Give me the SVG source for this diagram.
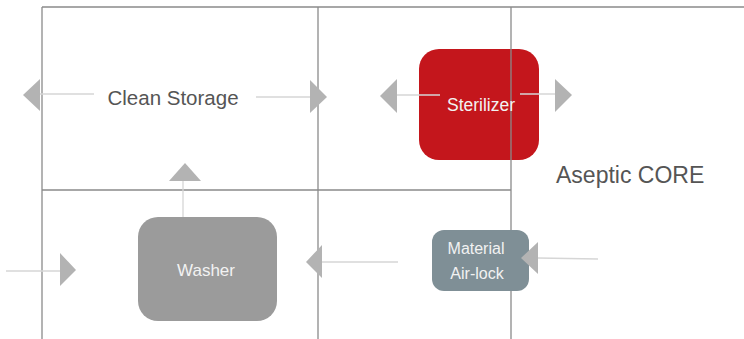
<svg xmlns="http://www.w3.org/2000/svg" width="744" height="339" viewBox="0 0 744 339">
<style>
.grid{stroke:#8a8a8a;stroke-width:1.3;fill:none}
.ln{stroke:#d6d6d6;stroke-width:1.3;fill:none}
.ah{fill:#b3b3b3}
.lbl{font-family:"Liberation Sans",Arial,sans-serif;fill:#555555}
.in{font-family:"Liberation Sans",Arial,sans-serif;fill:#f2f2f2;text-anchor:middle}
</style>
<rect width="744" height="339" fill="#ffffff"/>
<g id="grid">
<line class="grid" x1="42" y1="7" x2="744" y2="7"/>
<line class="grid" x1="42" y1="7" x2="42" y2="339"/>
<line class="grid" x1="318" y1="7" x2="318" y2="339"/>
<line class="grid" x1="42" y1="190" x2="511" y2="190"/>
</g>
<g id="clean-storage">
<text class="lbl" x="173" y="105" font-size="20.5" text-anchor="middle">Clean Storage</text>
</g>
<g id="sterilizer">
<rect x="419" y="49" width="120" height="111" rx="20" fill="#c4161c"/>
</g>
<g id="washer">
<rect x="138" y="217" width="139" height="104" rx="20" fill="#9b9b9b"/>
<text class="in" x="206" y="276" font-size="17">Washer</text>
</g>
<g id="core-line">
<line class="grid" x1="511" y1="7" x2="511" y2="339"/>
</g>
<g id="sterilizer-label">
<text class="in" x="481" y="111" font-size="17.5">Sterilizer</text>
</g>
<g id="airlock">
<rect x="432" y="230" width="97" height="61" rx="12" fill="#7f8f96"/>
<text class="in" x="476" y="254" font-size="16">Material</text>
<text class="in" x="477" y="279" font-size="16">Air-lock</text>
</g>
<g id="aseptic-core">
<text class="lbl" x="556" y="183" font-size="23">Aseptic CORE</text>
</g>
<g id="connectors">
<line class="ln" x1="40" y1="94" x2="94" y2="94"/>
<polygon class="ah" points="40,79 40,111 23,95"/>
<line class="ln" x1="256" y1="97" x2="310" y2="97"/>
<polygon class="ah" points="310,80 310,113 327,97"/>
<line class="ln" x1="397" y1="95" x2="440" y2="95"/>
<polygon class="ah" points="397,79 397,113 380,96"/>
<line class="ln" x1="520" y1="94" x2="555" y2="94"/>
<polygon class="ah" points="555,79 555,112 572,95"/>
<line class="ln" x1="183" y1="181" x2="183" y2="217"/>
<polygon class="ah" points="169,181 201,181 185,163"/>
<line class="ln" x1="6" y1="271" x2="60" y2="271"/>
<polygon class="ah" points="60,253 60,286 76,270"/>
<line class="ln" x1="322" y1="262" x2="398" y2="262"/>
<polygon class="ah" points="322,245 322,278 306,262"/>
<line class="ln" x1="538" y1="258" x2="598" y2="259"/>
<polygon class="ah" points="538,242 538,274 521,258"/>
</g>
</svg>
